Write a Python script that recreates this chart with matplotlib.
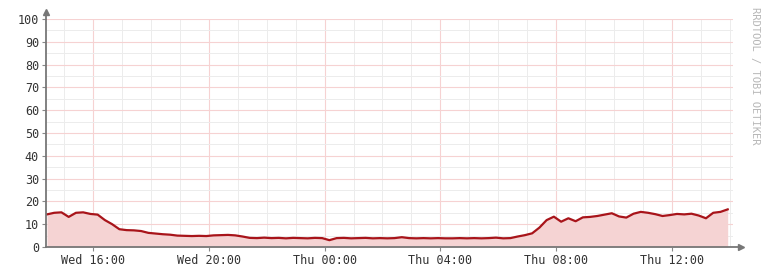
import numpy as np
import pandas as pd
import matplotlib
matplotlib.use("Agg")
import matplotlib.pyplot as plt
import matplotlib.dates as mdates

# 15-minute samples starting Wed 14:25
start = "2024-01-03 14:25"
values = [
    14.3, 15.0, 15.2, 13.2,   # 14:25 .. 15:10
    15.0, 15.2, 14.5, 14.2,   # 15:25 .. 16:10
    11.8, 10.0, 7.8, 7.4,     # 16:25 .. 17:10
    7.3, 7.0, 6.2, 5.9,       # 17:25 .. 18:10
    5.6, 5.4, 5.0, 4.9,       # 18:25 .. 19:10
    4.8, 4.9, 4.8, 5.1,       # 19:25 .. 20:10
    5.2, 5.3, 5.1, 4.6,       # 20:25 .. 21:10
    4.0, 3.9, 4.1, 3.9,       # 21:25 .. 22:10
    4.0, 3.8, 4.0, 3.9,       # 22:25 .. 23:10
    3.8, 4.0, 3.9, 3.0,       # 23:25 .. Thu 00:10
    3.9, 4.0, 3.8, 3.9,       # 00:25 .. 01:10
    4.0, 3.8, 3.9, 3.8,       # 01:25 .. 02:10
    3.9, 4.3, 3.9, 3.8,       # 02:25 .. 03:10
    3.9, 3.8, 3.9, 3.8,       # 03:25 .. 04:10
    3.8, 3.9, 3.8, 3.9,       # 04:25 .. 05:10
    3.8, 3.9, 4.1, 3.8,       # 05:25 .. 06:10
    3.9, 4.6, 5.2, 6.0,       # 06:25 .. 07:10
    8.5, 11.8, 13.3, 11.1,    # 07:25 .. 08:10
    12.6, 11.3, 13.0, 13.2,   # 08:25 .. 09:10
    13.6, 14.2, 14.8, 13.4,   # 09:25 .. 10:10
    12.9, 14.6, 15.4, 15.0,   # 10:25 .. 11:10
    14.4, 13.6, 14.0, 14.5,   # 11:25 .. 12:10
    14.3, 14.6, 13.8, 12.6,   # 12:25 .. 13:10
    15.0, 15.4, 16.5,         # 13:25 .. 13:55
]
times = pd.date_range(start, periods=len(values), freq="15min")

y_ticks = [0, 10, 20, 30, 40, 50, 60, 70, 80, 90, 100]
x_start = pd.Timestamp("2024-01-03 14:23")
x_end = pd.Timestamp("2024-01-04 14:06")

fig = plt.figure(figsize=(7.65, 2.68), dpi=100)
fig.patch.set_facecolor("white")
ax = fig.add_axes([46 / 765, 21 / 268, 687 / 765, 228 / 268])
ax.set_facecolor("white")

# grid: minor gray, major pinkish like rrdtool
ax.xaxis.set_major_locator(mdates.HourLocator(byhour=[0, 4, 8, 12, 16, 20]))
ax.xaxis.set_minor_locator(mdates.HourLocator())
ax.xaxis.set_major_formatter(mdates.DateFormatter("%a %H:%M"))
ax.set_yticks(y_ticks)
ax.set_yticks(np.arange(5, 100, 5), minor=True)
ax.grid(which="minor", color="#ececec", linewidth=0.7)
ax.grid(which="major", color="#f6d2d2", linewidth=0.8)
ax.set_axisbelow(True)

ax.fill_between(times, values, 0, color="#f5d3d3", linewidth=0)
ax.plot(times, values, color="#a8141a", linewidth=1.6)

ax.set_xlim(x_start, x_end)
ax.set_ylim(0, 100)

for s in ax.spines.values():
    s.set_visible(False)
# axis lines with arrows
ax.plot([0, 1.012], [0, 0], color="#777777", lw=1.3, transform=ax.transAxes, clip_on=False)
ax.plot([0, 0], [0, 1.03], color="#777777", lw=1.3, transform=ax.transAxes, clip_on=False)
ax.plot([1.012], [0], marker=">", color="#777777", ms=5, transform=ax.transAxes, clip_on=False)
ax.plot([0], [1.03], marker="^", color="#777777", ms=5, transform=ax.transAxes, clip_on=False)

ax.tick_params(which="major", length=3, color="#888888", labelsize=8.5,
               labelcolor="#333333", pad=2)
ax.tick_params(which="minor", length=0)
for lab in ax.get_xticklabels() + ax.get_yticklabels():
    lab.set_fontfamily("DejaVu Sans Mono")

fig.text(0.987, 0.975, "RRDTOOL / TOBI OETIKER", rotation=270, ha="center", va="top",
         fontsize=7.5, color="#b8b8b8", family="DejaVu Sans Mono")

fig.savefig("out.png", dpi=100)
